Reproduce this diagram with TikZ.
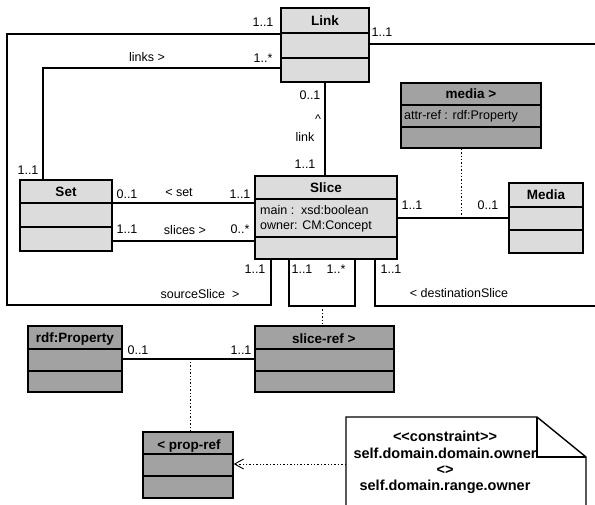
\documentclass[tikz,border=0pt]{standalone}
\usepackage{fontspec}
\setmainfont{Liberation Sans}
\usetikzlibrary{arrows.meta}

\definecolor{clslight}{RGB}{220,220,220}
\definecolor{clsdark}{RGB}{162,162,162}

\tikzset{
  cls/.style={draw, line width=1.4pt, fill=#1, inner sep=0pt},
  lbl/.style={font=\fontsize{12.5}{14}\selectfont, inner sep=0pt},
  ttl/.style={font=\bfseries\fontsize{13.5}{15}\selectfont, inner sep=0pt},
  assoc/.style={line width=1.2pt},
  dep/.style={line width=0.9pt, dash pattern=on 1.4pt off 2pt},
}

\begin{document}
\begin{tikzpicture}[x=1pt, y=-1pt]
    \useasboundingbox (0,0) rectangle (595,504);
    \clip (0,0) rectangle (595,504);

    \coordinate (C1) at (7,34);
    \coordinate (C2) at (271,305);
    \coordinate (C3) at (43,68);
    \coordinate (C4) at (595,44);
    \coordinate (S1) at (0,203);
    \coordinate (S2) at (0,241);
    \coordinate (R1) at (289,306);
    \coordinate (R2) at (355,306);
    \coordinate (R3) at (322,306);
    \coordinate (D1) at (375,0);
    \coordinate (D2) at (595,306);
    \coordinate (Q1) at (461,218);
    \coordinate (P1) at (190,360);
    \coordinate (N1) at (346,510);
    \coordinate (N2) at (346,417);
    \coordinate (N3) at (537,417);
    \coordinate (N4) at (586,457);
    \coordinate (N5) at (586,510);
    \coordinate (N6) at (537,457);
    \coordinate (N7) at (346,464);

    % classes
    \node [cls=clslight, minimum width=88, minimum height=74] (link) at (325,45) {};
    \node [cls=clslight, minimum width=92, minimum height=71] (set) at (66,215.5) {};
    \node [cls=clslight, minimum width=142, minimum height=83] (slice) at (326,217.5) {};
    \node [cls=clslight, minimum width=74, minimum height=70] (media) at (546,218) {};
    \node [cls=clsdark, minimum width=140, minimum height=65] (mediaref) at (471,115.5) {};
    \node [cls=clsdark, minimum width=94, minimum height=66] (rdfprop) at (75,359) {};
    \node [cls=clsdark, minimum width=139, minimum height=66] (sliceref) at (324.5,359) {};
    \node [cls=clsdark, minimum width=90, minimum height=66] (propref) at (188,465) {};

    % compartments
    \draw [line width=1.4pt] (link.west |- 0,33) -- (link.east |- 0,33);
    \draw [line width=1.4pt] (link.west |- 0,58) -- (link.east |- 0,58);
    \draw [line width=1.4pt] (set.west |- 0,203) -- (set.east |- 0,203);
    \draw [line width=1.4pt] (set.west |- 0,227) -- (set.east |- 0,227);
    \draw [line width=1.4pt] (slice.west |- 0,199) -- (slice.east |- 0,199);
    \draw [line width=1.4pt] (slice.west |- 0,237) -- (slice.east |- 0,237);
    \draw [line width=1.4pt] (media.west |- 0,207) -- (media.east |- 0,207);
    \draw [line width=1.4pt] (media.west |- 0,230) -- (media.east |- 0,230);
    \draw [line width=1.4pt] (mediaref.west |- 0,105) -- (mediaref.east |- 0,105);
    \draw [line width=1.4pt] (mediaref.west |- 0,127) -- (mediaref.east |- 0,127);
    \draw [line width=1.4pt] (rdfprop.west |- 0,349) -- (rdfprop.east |- 0,349);
    \draw [line width=1.4pt] (rdfprop.west |- 0,371) -- (rdfprop.east |- 0,371);
    \draw [line width=1.4pt] (sliceref.west |- 0,349) -- (sliceref.east |- 0,349);
    \draw [line width=1.4pt] (sliceref.west |- 0,371) -- (sliceref.east |- 0,371);
    \draw [line width=1.4pt] (propref.west |- 0,454) -- (propref.east |- 0,454);
    \draw [line width=1.4pt] (propref.west |- 0,476) -- (propref.east |- 0,476);

    \node [ttl] (link-t) at (325,21) {Link};
    \node [ttl] (set-t) at (66,192) {Set};
    \node [ttl] (slice-t) at (326,188) {Slice};
    \node [lbl, anchor=west] (slice-a1) at (260,210) {main :\ \ xsd:boolean};
    \node [lbl, anchor=west] (slice-a2) at (260,226) {owner: CM:Concept};
    \node [ttl] (media-t) at (546,195) {Media};
    \node [ttl] (mediaref-t) at (471,94) {media >};
    \node [lbl, anchor=west] (mediaref-a) at (404,116) {attr-ref\ : rdf:Property};
    \node [ttl] (rdfprop-t) at (75,339) {rdf:Property};
    \node [ttl, anchor=west] (sliceref-t) at (292,339) {slice-ref >};
    \node [ttl] (propref-t) at (189,446) {< prop-ref};

    % associations
    \draw [assoc] (link.west |- C1) -- (C1) |- (C2) -- (slice.south -| C2);
    \draw [assoc] (link.west |- C3) -| (set.north -| C3);
    \draw [assoc] (link.east |- C4) -- (C4);
    \draw [assoc] (link.south) -- (link.south |- slice.north);
    \draw [assoc] (set.east |- S1) -- (slice.west |- S1);
    \draw [assoc] (set.east |- S2) -- (slice.west |- S2);
    \draw [assoc] (slice.south -| R1) -- (R1) -- (R2) -- (slice.south -| R2);
    \draw [assoc] (slice.south -| D1) |- (D2);
    \draw [assoc] (slice.east |- media.west) -- (media.west);
    \draw [assoc] (rdfprop.east) -- (sliceref.west);

    % association classes
    \draw [dep] (mediaref.south -| Q1) -- (Q1);
    \draw [dep] (R3) -- (sliceref.north -| R3);
    \draw [dep] (propref.north -| P1) -- (P1);

    % constraint note
    \draw [dep, -{Straight Barb[length=9pt, width=10pt]}] (N7) -- (propref.east |- N7);
    \draw [line width=1.4pt, fill=white] (N1) -- (N2) -- (N3) -- (N4) -- (N5);
    \draw [line width=1.4pt] (N3) -- (N6) -- (N4);
    \node [ttl, align=center, font=\bfseries\fontsize{14.5}{16.3}\selectfont] (note) at (445,462.5)
        {<\kern0pt<constraint>\kern0pt>\\self.domain.domain.owner\\<>\\self.domain.range.owner};

    % multiplicities and roles
    \node [lbl] (m1) at (263,22) {1..1};
    \node [lbl] (m2) at (147,57) {links >};
    \node [lbl] (m3) at (263,58) {1..*};
    \node [lbl] (m4) at (28,170) {1..1};
    \node [lbl] (m5) at (382,32) {1..1};
    \node [lbl] (m6) at (310,95) {0..1};
    \node [lbl] (m7) at (318,119) {\^{}};
    \node [lbl] (m8) at (305,137) {link};
    \node [lbl] (m9) at (305,164) {1..1};
    \node [lbl] (m10) at (127,194) {0..1};
    \node [lbl] (m11) at (179,193) {< set};
    \node [lbl] (m12) at (240,194) {1..1};
    \node [lbl] (m13) at (127,229) {1..1};
    \node [lbl] (m14) at (185,230) {slices >};
    \node [lbl] (m15) at (240,229) {0..*};
    \node [lbl] (m16) at (255,269) {1..1};
    \node [lbl] (m17) at (200,294) {sourceSlice\ \ >};
    \node [lbl] (m18) at (302,269) {1..1};
    \node [lbl] (m19) at (336,269) {1..*};
    \node [lbl] (m20) at (391,269) {1..1};
    \node [lbl] (m21) at (459,293) {< destinationSlice};
    \node [lbl] (m22) at (412,205) {1..1};
    \node [lbl] (m23) at (488,205) {0..1};
    \node [lbl] (m24) at (138,350) {0..1};
    \node [lbl] (m25) at (241,350) {1..1};
\end{tikzpicture}
\end{document}
